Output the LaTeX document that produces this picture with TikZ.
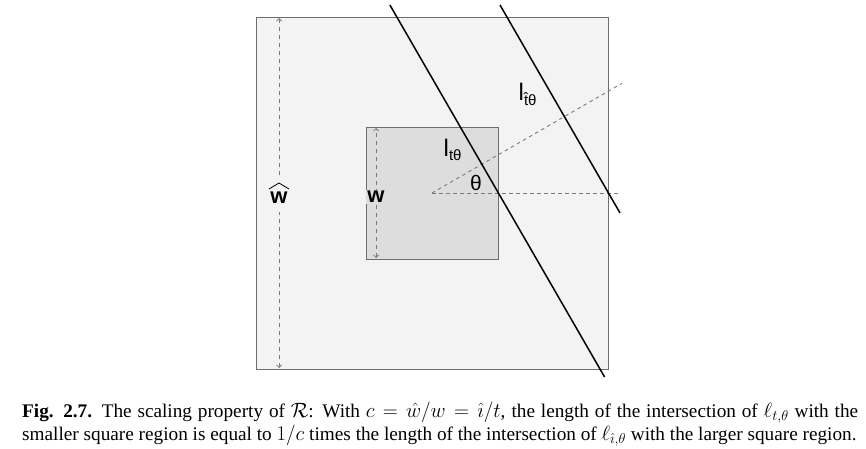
\documentclass[tikz,border=0pt]{standalone}
\usepackage{fontspec}
\setmainfont{Liberation Serif}
\newfontfamily\labfont{Liberation Sans}
\usetikzlibrary{arrows.meta}
\definecolor{bigfill}{HTML}{F3F3F3}
\definecolor{smallfill}{HTML}{DDDDDD}
\definecolor{edgegray}{HTML}{6E6E6E}
\definecolor{dashgray}{HTML}{7A7A7A}
\tikzset{
  region/.style={draw=edgegray, line width=0.9pt},
  cutline/.style={draw=black, line width=1.5pt},
  guide/.style={draw=dashgray, line width=0.9pt, dash pattern=on 3.5pt off 3.5pt},
  measure/.style={draw=dashgray, line width=0.8pt, dash pattern=on 4pt off 4pt,
    {Straight Barb[length=2.5pt,width=5pt]}-{Straight Barb[length=2.5pt,width=5pt]}},
  wlab/.style={font=\labfont\bfseries\fontsize{22}{24}\selectfont, inner sep=1.5pt},
  llab/.style={font=\labfont\fontsize{24}{26}\selectfont, inner sep=0pt, anchor=base west},
  thlab/.style={font=\labfont\fontsize{21}{24}\selectfont, inner sep=0pt},
  hat/.style={draw=black, line width=0.8pt},
}
\newcommand{\sublabtext}[1]{\raisebox{-4.5pt}{\fontsize{15}{16}\selectfont #1}}
\begin{document}
\begin{tikzpicture}[x=1pt,y=1pt]
\useasboundingbox (0,0) rectangle (866,448);
% regions
\node[region, fill=bigfill, minimum width=352pt, minimum height=352pt, inner sep=0pt] (big) at (432,255) {};
\node[region, fill=smallfill, minimum width=132pt, minimum height=132pt, inner sep=0pt] (small) at (432,255) {};
% centre and guides
\coordinate (c) at (432,255);
\coordinate (hend) at (621,255);
\coordinate (dend) at (622,364.7);
\draw[guide] (c) -- (hend);
\draw[guide] (c) -- (dend);
% lines
\coordinate (a1) at (389.9,443);
\coordinate (b1) at (604.6,71);
\coordinate (a2) at (500,443);
\coordinate (b2) at (620,235);
\draw[cutline] (a1) -- (b1);
\draw[cutline] (a2) -- (b2);
% measures
\coordinate (bt) at (279,430);
\coordinate (bb) at (279,80);
\coordinate (st) at (376,320);
\coordinate (sb) at (376,190);
\draw[measure] (bb) -- (bt);
\draw[measure] (sb) -- (st);
% labels
\fill[bigfill] (267,236) rectangle (291,272);
\node[wlab, fill=bigfill] (wbig) at (279,250) {w};
\draw[hat] ([shift={(-10,9)}]wbig.center) -- ([shift={(0,15)}]wbig.center) -- ([shift={(10,9)}]wbig.center);
\node[wlab, fill=smallfill] (wsmall) at (376,251) {w};
\node[llab] (lt) at (443.5,292) {l\sublabtext{tθ}};
\node[llab] (lth) at (518.5,347) {l\sublabtext{\^{t}θ}};
\node[thlab] (th) at (476,265) {θ};
% caption
\node[anchor=north west, text width=836pt, align=justify, inner sep=0pt,
  font=\fontsize{19.25}{23}\selectfont] (cap) at (22,46)
  {\textbf{Fig. 2.7.} The scaling property of $\mathcal{R}$: With $c=\hat{w}/w=\hat{\imath}/t$, the length of the intersection of $\ell_{t,\theta}$ with the\linebreak smaller square region is equal to $1/c$ times the length of the intersection of $\ell_{\hat{\imath},\theta}$ with the larger square region.};
\end{tikzpicture}
\end{document}
